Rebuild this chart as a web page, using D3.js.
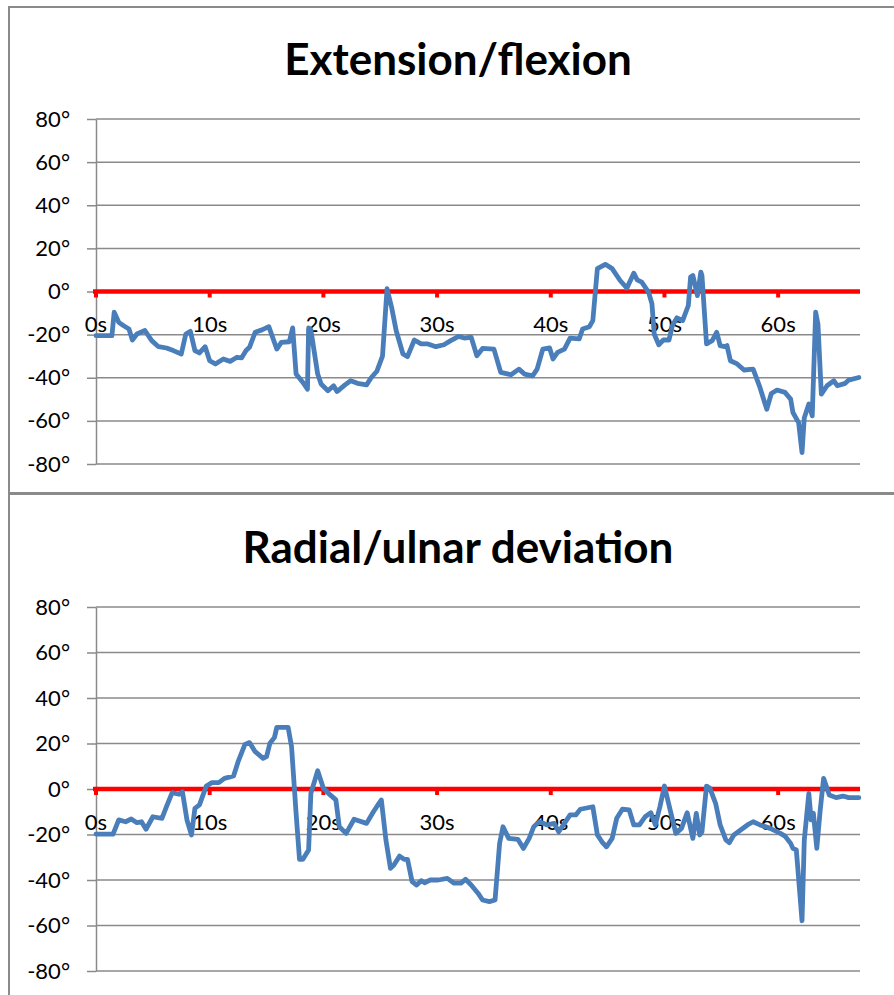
<!DOCTYPE html>
<html>
<head>
<meta charset="utf-8">
<script src="https://cdn.jsdelivr.net/npm/d3@7"></script>
<style>
  body { margin: 0; background: #fff; }
  svg { display: block; font-family: Lato, "Open Sans", sans-serif; }
  .grid line { stroke: #8a8a8a; stroke-width: 1.5; }
  .y-axis .domain { stroke: #8a8a8a; stroke-width: 1.5; }
  .y-axis .tick line { stroke: #8a8a8a; stroke-width: 1.5; }
  .y-axis text, .x-labels text { font-size: 22px; fill: #000; }
  .title { font-size: 44px; font-weight: bold; }
  .series { fill: none; stroke: #4a7ebb; stroke-width: 4.8; stroke-linejoin: round; stroke-linecap: round; }
</style>
</head>
<body>
<div id="wrapper"></div>
<script>
// data
const yTicks = [-80, -60, -40, -20, 0, 20, 40, 60, 80]
const xTicks = [0, 10, 20, 30, 40, 50, 60]
const xMax = 67.2

const extTime = [0, 1.4, 1.6, 2.0, 2.4, 2.9, 3.2, 3.6, 4.3, 4.9, 5.5, 6.2, 6.8, 7.5, 7.9, 8.3, 8.7, 9.1, 9.6, 10.0,
  10.5, 11.2, 11.8, 12.4, 12.8, 13.2, 13.5, 14.0, 14.6, 15.2, 15.9, 16.3, 17.0, 17.3, 17.6, 18.2, 18.6, 18.7, 18.9, 19.5,
  19.8, 20.4, 20.9, 21.2, 21.9, 22.4, 23.0, 23.8, 24.2, 24.7, 25.2, 25.6, 26.0, 26.4, 27.0, 27.4, 28.0, 28.6, 29.2, 29.9,
  30.6, 31.2, 31.9, 32.4, 33.0, 33.5, 34.0, 35.0, 35.6, 36.5, 37.2, 37.7, 38.4, 38.8, 39.3, 39.9, 40.2, 40.6, 41.2, 41.7,
  42.5, 42.8, 43.4, 43.7, 44.1, 44.8, 45.4, 46.1, 46.7, 47.3, 47.6, 48.0, 48.6, 48.9, 49.1, 49.5, 49.9, 50.4, 50.7, 51.1,
  51.6, 52.1, 52.3, 52.5, 52.9, 53.2, 53.3, 53.7, 54.2, 54.6, 54.9, 55.3, 55.5, 55.8, 56.4, 57.0, 57.8, 58.4, 59.0, 59.4,
  59.9, 60.6, 61.1, 61.3, 61.8, 62.1, 62.3, 62.7, 63.0, 63.3, 63.5, 63.8, 64.3, 64.9, 65.2, 65.9, 66.2, 67.1]
const extValues = [-20.5, -20.5, -9.6, -14.3, -15.8, -17.4, -22.5, -19.7, -18.1, -22.8, -25.6, -26.2, -27.4, -29, -19.7, -18.5, -27.4, -28.5, -25.6, -32.1,
  -33.6, -31.3, -32.4, -30.5, -30.8, -27.4, -25.9, -18.9, -17.8, -16.3, -26.7, -23.6, -23.3, -16.9, -38.3, -42.2, -45.3, -16.9, -17.8, -38.3,
  -42.9, -46, -43.7, -46.4, -43.3, -41.4, -42.6, -43.3, -40, -37, -30, 1.3, -7.3, -18.1, -29, -30.2, -22.5, -24.3, -24.3, -25.6,
  -24.7, -22.8, -20.8, -21.6, -21.2, -29.8, -26.4, -26.7, -37.5, -38.6, -36, -38.3, -39.1, -36, -26.7, -26.2, -31.3, -28.2, -26.7, -21.6,
  -22, -17.4, -16.3, -13.5, 10.6, 12.6, 10.6, 5.1, 1.6, 8.5, 5.4, 4.3, -0.3, -5.7, -19.7, -24.7, -22.5, -22.5, -15.8, -12.2,
  -13.5, -6.5, 6.7, 7.4, -1.9, 9, 7.4, -24.3, -22.8, -18.9, -25.1, -25.6, -25.1, -32.1, -33.6, -36.4, -36, -44.5, -54.6, -47.3,
  -45.7, -46.8, -49.9, -56.1, -60.8, -74.7, -58.5, -52.2, -57.7, -9.6, -15, -47.6, -43.7, -41.4, -43.7, -42.6, -41.1, -39.9]

const devTime = [0, 1.5, 2.0, 2.6, 3.1, 3.6, 4.0, 4.4, 5.0, 5.8, 6.2, 6.7, 7.3, 7.6, 8.0, 8.4, 8.7, 9.1, 9.7, 10.2,
  10.8, 11.3, 12.1, 12.5, 13.1, 13.5, 14.0, 14.7, 15.0, 15.3, 15.7, 15.9, 16.5, 16.9, 17.2, 17.6, 17.9, 18.2, 18.7, 18.9,
  19.5, 20.0, 20.6, 21.1, 21.4, 22.0, 22.7, 23.8, 24.4, 24.8, 25.1, 25.5, 25.9, 26.2, 26.7, 27.1, 27.4, 27.8, 28.2, 28.6,
  28.9, 29.4, 30.1, 30.9, 31.5, 32.1, 32.5, 33.0, 33.6, 34.0, 34.6, 35.1, 35.5, 35.8, 36.3, 37.1, 37.6, 38.1, 38.5, 39.0,
  39.7, 40.3, 40.7, 41.2, 41.7, 42.2, 42.6, 43.7, 44.1, 44.5, 44.9, 45.4, 45.8, 46.3, 46.9, 47.3, 47.8, 48.3, 48.8, 49.2,
  49.6, 50.0, 50.5, 51.0, 51.5, 52.0, 52.5, 52.8, 53.1, 53.3, 53.7, 54.0, 54.5, 54.9, 55.4, 55.7, 56.1, 56.7, 57.3, 57.8,
  58.4, 59.3, 60.2, 60.6, 61.1, 61.3, 61.6, 62.1, 62.3, 62.7, 62.9, 63.1, 63.4, 63.7, 64.0, 64.5, 65.1, 65.7, 66.2, 67.1]
const devValues = [-19.8, -19.8, -13.6, -14.4, -13.2, -14.8, -14.4, -17.7, -12.2, -12.9, -7.8, -1.6, -2.3, -1.2, -13.6, -20.2, -8.5, -7.0, 1.3, 2.8,
  2.8, 4.7, 5.7, 12, 19.6, 20.4, 16.4, 13.5, 14.2, 20.1, 22.7, 27.1, 27.1, 27.1, 18.6, -10.7, -30.9, -30.9, -26.8, -1.9,
  8.0, 0.3, -2.6, -4.8, -16.6, -19.5, -13.3, -15.1, -10, -7, -4.8, -22.4, -34.9, -33.4, -29.5, -30.9, -30.9, -40.7, -42.2, -40.3,
  -41.2, -40, -40, -39.3, -41.4, -41.4, -39.7, -42.2, -45.8, -48.8, -49.5, -48.8, -23.9, -16.6, -21.7, -22.1, -26.1, -21.7, -16.6, -14.4,
  -15.8, -15.1, -18.8, -15.1, -11.4, -11.4, -8.9, -7.8, -20.2, -23.2, -25.4, -21.7, -12.9, -8.9, -9.2, -15.8, -15.8, -12.2, -10.4, -15.8,
  -7.8, 1.3, -9.2, -19.5, -17.3, -10.4, -21.7, -10.7, -20.2, -18.8, 1.3, 0.3, -6.3, -15.8, -22.4, -23.6, -20.2, -18, -15.8, -14.4,
  -15.8, -17.3, -19.5, -20.7, -23.9, -26.1, -26.8, -57.9, -22.4, -1.9, -13.6, -10.7, -26.1, -9.2, 4.7, -2.6, -3.8, -3.1, -3.8, -3.8]

const width = 894
const height = 995

const wrapper = d3.select("#wrapper")
  .append("svg")
    .attr("width", width)
    .attr("height", height)

// panel frames
wrapper.append("rect")
    .attr("x", 9).attr("y", 7)
    .attr("width", 900).attr("height", 486)
    .attr("fill", "none").attr("stroke", "#8a8a8a").attr("stroke-width", 2)
wrapper.append("rect")
    .attr("x", 9).attr("y", 494)
    .attr("width", 900).attr("height", 520)
    .attr("fill", "none").attr("stroke", "#8a8a8a").attr("stroke-width", 2)

const drawPanel = ({ title, titleY, top, bottom, times, values }) => {
  const left = 96
  const right = 860

  const xScale = d3.scaleLinear()
    .domain([0, xMax])
    .range([left, right])

  const yScale = d3.scaleLinear()
    .domain([-80, 80])
    .range([bottom, top])

  const g = wrapper.append("g")

  g.append("text")
      .attr("class", "title")
      .attr("x", 458)
      .attr("y", titleY)
      .attr("text-anchor", "middle")
      .text(title)

  // gridlines
  g.append("g")
      .attr("class", "grid")
    .selectAll("line")
    .data(yTicks.filter(d => d !== 0))
    .join("line")
      .attr("x1", left)
      .attr("x2", right)
      .attr("y1", d => yScale(d))
      .attr("y2", d => yScale(d))

  // y axis
  const yAxis = g.append("g")
      .attr("class", "y-axis")
      .attr("transform", `translate(${left},0)`)
      .call(d3.axisLeft(yScale).tickValues(yTicks).tickSize(9).tickSizeOuter(0).tickPadding(17).tickFormat(d => d + "°"))
  yAxis.attr("font-family", null).attr("font-size", null)

  // zero line with red ticks
  const zeroY = yScale(0)
  g.append("line")
      .attr("x1", left - 3)
      .attr("x2", right)
      .attr("y1", zeroY)
      .attr("y2", zeroY)
      .attr("stroke", "#ff0000")
      .attr("stroke-width", 4.5)
  g.append("g")
    .selectAll("line")
    .data(xTicks)
    .join("line")
      .attr("x1", d => xScale(d))
      .attr("x2", d => xScale(d))
      .attr("y1", zeroY)
      .attr("y2", zeroY + 6)
      .attr("stroke", "#ff0000")
      .attr("stroke-width", 4)

  g.append("g")
      .attr("class", "x-labels")
    .selectAll("text")
    .data(xTicks)
    .join("text")
      .attr("x", d => xScale(d))
      .attr("y", zeroY + 35)
      .attr("text-anchor", "middle")
      .attr("dominant-baseline", "middle")
      .text(d => d + "s")

  // series
  const points = times.map((t, i) => [t, values[i]])
  const lineGenerator = d3.line()
    .x(d => xScale(d[0]))
    .y(d => yScale(d[1]))

  g.append("path")
      .attr("class", "series")
      .attr("d", lineGenerator(points))
}

drawPanel({ title: "Extension/flexion", titleY: 75, top: 119, bottom: 464, times: extTime, values: extValues })
drawPanel({ title: "Radial/ulnar deviation", titleY: 563, top: 607, bottom: 971, times: devTime, values: devValues })
</script>
</body>
</html>
